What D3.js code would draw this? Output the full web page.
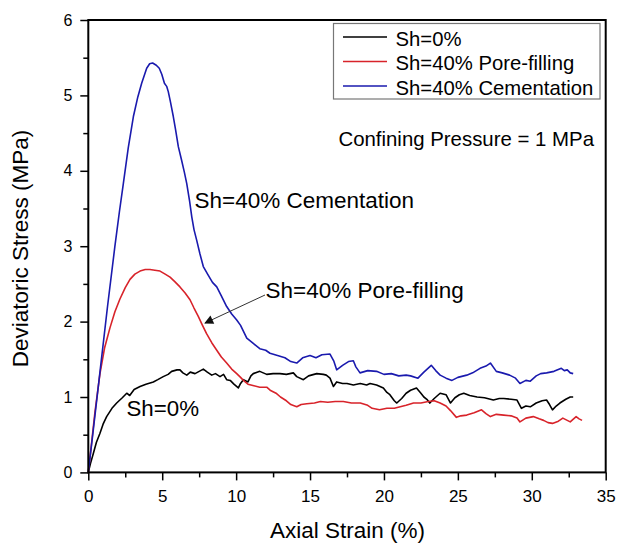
<!DOCTYPE html>
<html>
<head>
<meta charset="utf-8">
<script src="https://cdn.jsdelivr.net/npm/d3@7"></script>
<style>
  html, body { margin: 0; padding: 0; background: #fff; }
  svg { display: block; font-family: "Liberation Sans", Arial, sans-serif; }
</style>
</head>
<body>
<svg id="chart" width="617" height="544"></svg>
<script>
// Triaxial shear curves: deviatoric stress (MPa) vs axial strain (%)
const seriesNames = ["Sh=0%", "Sh=40% Pore-filling", "Sh=40% Cementation"];
const seriesColors = ["#000000", "#d8232a", "#1a1aae"];

const curveSh0 = [[0,0],[0.15,0.12],[0.34,0.25],[0.55,0.4],[0.79,0.52],[1.0,0.64],[1.24,0.74],[1.6,0.85],[1.92,0.92],[2.3,0.99],[2.6,1.05],[2.8,1.02],[3.1,1.1],[3.5,1.14],[3.9,1.17],[4.4,1.2],[4.7,1.23],[5.07,1.27],[5.4,1.3],[5.64,1.34],[6.0,1.36],[6.2,1.36],[6.4,1.32],[6.66,1.29],[6.9,1.33],[7.22,1.31],[7.5,1.34],[7.78,1.37],[8.05,1.33],[8.35,1.29],[8.6,1.31],[8.91,1.27],[9.15,1.3],[9.36,1.23],[9.6,1.22],[9.85,1.17],[10.15,1.12],[10.3,1.18],[10.49,1.23],[10.8,1.2],[11.0,1.28],[11.16,1.31],[11.6,1.34],[12.07,1.3],[12.5,1.31],[12.97,1.31],[13.4,1.3],[13.87,1.32],[14.1,1.27],[14.55,1.23],[14.9,1.28],[15.45,1.31],[15.9,1.3],[16.1,1.29],[16.35,1.25],[16.58,1.14],[16.8,1.2],[17.2,1.18],[17.5,1.18],[17.93,1.16],[18.4,1.18],[18.83,1.16],[19.06,1.18],[19.5,1.16],[19.96,1.12],[20.2,1.06],[20.4,1.03],[20.7,0.95],[20.87,0.92],[21.2,0.98],[21.5,1.05],[21.8,1.09],[22.2,1.12],[22.5,1.05],[22.7,1.0],[22.9,0.97],[23.1,0.92],[23.4,0.98],[23.8,1.05],[24.2,1.03],[24.5,0.92],[24.8,0.99],[25.1,1.03],[25.4,1.05],[25.8,1.02],[26.3,1.0],[26.8,0.99],[27.4,0.96],[27.8,0.98],[28.1,0.98],[28.6,0.97],[29.0,0.96],[29.3,0.85],[29.6,0.88],[29.9,0.87],[30.3,0.92],[30.7,0.95],[31.0,0.96],[31.2,0.9],[31.4,0.83],[31.65,0.88],[31.9,0.92],[32.3,0.97],[32.6,1.0],[32.8,1.0]];

const curvePoreFilling = [[0,0],[0.2,0.35],[0.45,0.8],[0.79,1.31],[1.1,1.65],[1.47,1.92],[1.8,2.13],[2.14,2.3],[2.5,2.45],[2.82,2.56],[3.15,2.63],[3.5,2.67],[3.85,2.69],[4.17,2.69],[4.5,2.68],[4.85,2.67],[5.2,2.63],[5.53,2.59],[5.85,2.53],[6.2,2.46],[6.55,2.38],[6.88,2.29],[7.15,2.18],[7.44,2.07],[7.7,1.96],[8.0,1.84],[8.35,1.72],[8.69,1.62],[9.0,1.53],[9.36,1.45],[9.7,1.37],[10.04,1.31],[10.3,1.26],[10.49,1.22],[10.8,1.17],[11.2,1.15],[11.6,1.13],[12.07,1.13],[12.3,1.09],[12.7,1.05],[13.0,1.0],[13.4,0.95],[13.7,0.9],[14.1,0.87],[14.4,0.9],[14.78,0.91],[15.3,0.92],[15.7,0.94],[16.2,0.93],[16.7,0.94],[17.25,0.94],[17.8,0.92],[18.4,0.92],[18.9,0.89],[19.2,0.85],[19.7,0.83],[20.2,0.85],[20.7,0.85],[21.1,0.87],[21.5,0.89],[22.0,0.92],[22.5,0.92],[23.0,0.94],[23.4,0.95],[23.8,0.92],[24.2,0.88],[24.5,0.82],[24.9,0.73],[25.2,0.75],[25.6,0.76],[26.1,0.79],[26.6,0.83],[26.9,0.78],[27.2,0.74],[27.6,0.77],[28.1,0.76],[28.6,0.75],[29.0,0.72],[29.2,0.67],[29.6,0.72],[30.1,0.74],[30.5,0.71],[30.8,0.69],[31.1,0.66],[31.4,0.65],[31.8,0.68],[32.1,0.72],[32.4,0.69],[32.6,0.67],[33.0,0.74],[33.2,0.71],[33.4,0.69]];

const curveCementation = [[0,0],[0.3,0.5],[0.8,1.35],[1.3,2.2],[1.8,3.0],[2.1,3.45],[2.37,3.83],[2.7,4.3],[3.05,4.72],[3.35,4.98],[3.61,5.16],[3.95,5.36],[4.15,5.42],[4.35,5.43],[4.6,5.4],[4.8,5.36],[4.97,5.28],[5.15,5.16],[5.3,5.12],[5.41,5.05],[5.55,4.92],[5.75,4.72],[5.9,4.55],[6.09,4.32],[6.3,4.15],[6.5,3.98],[6.66,3.83],[6.85,3.6],[7.0,3.39],[7.15,3.22],[7.33,3.08],[7.55,2.9],[7.78,2.73],[8.1,2.62],[8.4,2.52],[8.69,2.46],[9.0,2.34],[9.36,2.2],[9.7,2.1],[10.04,2.02],[10.3,1.95],[10.72,1.78],[11.16,1.71],[11.6,1.64],[12.0,1.62],[12.29,1.58],[12.8,1.55],[13.3,1.52],[13.7,1.47],[14.1,1.45],[14.5,1.52],[15.0,1.55],[15.4,1.52],[15.8,1.56],[16.35,1.57],[16.6,1.48],[16.8,1.36],[17.2,1.42],[17.6,1.47],[17.93,1.48],[18.1,1.4],[18.38,1.32],[18.9,1.35],[19.5,1.34],[20.0,1.3],[20.5,1.31],[21.0,1.28],[21.5,1.29],[21.8,1.28],[22.3,1.25],[22.7,1.33],[23.2,1.42],[23.5,1.35],[23.8,1.29],[24.2,1.25],[24.6,1.22],[25.0,1.26],[25.6,1.29],[26.0,1.32],[26.5,1.38],[26.9,1.41],[27.2,1.45],[27.6,1.34],[28.0,1.32],[28.5,1.29],[28.9,1.25],[29.2,1.18],[29.6,1.22],[29.9,1.21],[30.3,1.28],[30.6,1.31],[31.0,1.32],[31.5,1.34],[32.0,1.38],[32.2,1.35],[32.4,1.36],[32.6,1.32],[32.8,1.31]];

const xMajorTicks = [0, 5, 10, 15, 20, 25, 30, 35];
const xMinorTicks = [2.5, 7.5, 12.5, 17.5, 22.5, 27.5, 32.5];
const yMajorTicks = [0, 1, 2, 3, 4, 5, 6];
const yMinorTicks = [0.5, 1.5, 2.5, 3.5, 4.5, 5.5];

const svg = d3.select("#chart");
const plot = { left: 88.3, right: 605.7, top: 20, bottom: 472.4 };

const x = d3.scaleLinear().domain([0, 35]).range([plot.left, plot.right]);
const y = d3.scaleLinear().domain([0, 6]).range([plot.bottom, plot.top]);

// Curves
const line = d3.line().x(d => x(d[0])).y(d => y(d[1]));
const curves = [curveSh0, curvePoreFilling, curveCementation];
curves.forEach((c, i) => {
  svg.append("path")
    .datum(c)
    .attr("d", line)
    .attr("fill", "none")
    .attr("stroke", seriesColors[i])
    .attr("stroke-width", 1.6)
    .attr("stroke-linejoin", "round");
});

// Axes
function styleAxis(g) {
  g.select(".domain").remove();
  g.selectAll(".tick line").attr("stroke", "#000").attr("stroke-width", 1.5);
}
const xAxis = svg.append("g").attr("transform", `translate(0,${plot.bottom})`)
  .call(d3.axisBottom(x).tickValues(xMajorTicks).tickSize(8).tickPadding(10).tickFormat(d3.format("d")));
styleAxis(xAxis);
xAxis.selectAll("text").attr("font-size", 17).attr("fill", "#000").attr("font-family", "Liberation Sans, Arial, sans-serif");
const xMinor = svg.append("g").attr("transform", `translate(0,${plot.bottom})`)
  .call(d3.axisBottom(x).tickValues(xMinorTicks).tickSize(5).tickFormat(""));
styleAxis(xMinor);

const yAxis = svg.append("g").attr("transform", `translate(${plot.left},0)`)
  .call(d3.axisLeft(y).tickValues(yMajorTicks).tickSize(8).tickPadding(8).tickFormat(d3.format("d")));
styleAxis(yAxis);
yAxis.selectAll("text").attr("font-size", 16).attr("fill", "#000").attr("font-family", "Liberation Sans, Arial, sans-serif");
const yMinor = svg.append("g").attr("transform", `translate(${plot.left},0)`)
  .call(d3.axisLeft(y).tickValues(yMinorTicks).tickSize(5).tickFormat(""));
styleAxis(yMinor);

// Frame
svg.append("rect")
  .attr("x", plot.left).attr("y", plot.top)
  .attr("width", plot.right - plot.left).attr("height", plot.bottom - plot.top)
  .attr("fill", "none").attr("stroke", "#000").attr("stroke-width", 2);

// Axis titles
svg.append("text")
  .attr("x", 347.5).attr("y", 538)
  .attr("text-anchor", "middle").attr("font-size", 22.5)
  .text("Axial Strain (%)");
svg.append("text")
  .attr("transform", "translate(28,248.5) rotate(-90)")
  .attr("text-anchor", "middle").attr("font-size", 22.5)
  .text("Deviatoric Stress (MPa)");

// Legend
const legend = svg.append("g");
legend.append("rect")
  .attr("x", 333.5).attr("y", 23.5).attr("width", 266.5).attr("height", 75.5)
  .attr("fill", "#fff").attr("stroke", "#777").attr("stroke-width", 1.2);
seriesNames.forEach((name, i) => {
  const cy = 37 + i * 24.5;
  legend.append("line")
    .attr("x1", 343).attr("x2", 387).attr("y1", cy).attr("y2", cy)
    .attr("stroke", seriesColors[i]).attr("stroke-width", 1.6);
  legend.append("text")
    .attr("x", 395.5).attr("y", cy + 8.5)
    .attr("font-size", 20.3)
    .text(name);
});

// Condition note
svg.append("text")
  .attr("x", 594).attr("y", 145.5)
  .attr("text-anchor", "end").attr("font-size", 20.4)
  .text("Confining Pressure = 1 MPa");

// Curve labels
svg.append("text").attr("x", 194.5).attr("y", 207.5).attr("font-size", 22.5).text("Sh=40% Cementation");
svg.append("text").attr("x", 265.5).attr("y", 298).attr("font-size", 22.5).text("Sh=40% Pore-filling");
svg.append("text").attr("x", 126.5).attr("y", 416).attr("font-size", 22.3).text("Sh=0%");

// Leader arrow to the pore-filling curve
svg.append("defs").append("marker")
  .attr("id", "arrowHead")
  .attr("viewBox", "0 0 10 10").attr("refX", 9).attr("refY", 5)
  .attr("markerWidth", 12).attr("markerHeight", 9)
  .attr("markerUnits", "userSpaceOnUse")
  .attr("orient", "auto")
  .append("path").attr("d", "M0,0 L10,5 L0,10 Z").attr("fill", "#111");
svg.append("line")
  .attr("x1", 265).attr("y1", 295).attr("x2", 205).attr("y2", 323)
  .attr("stroke", "#333").attr("stroke-width", 1)
  .attr("marker-end", "url(#arrowHead)");
</script>
</body>
</html>
